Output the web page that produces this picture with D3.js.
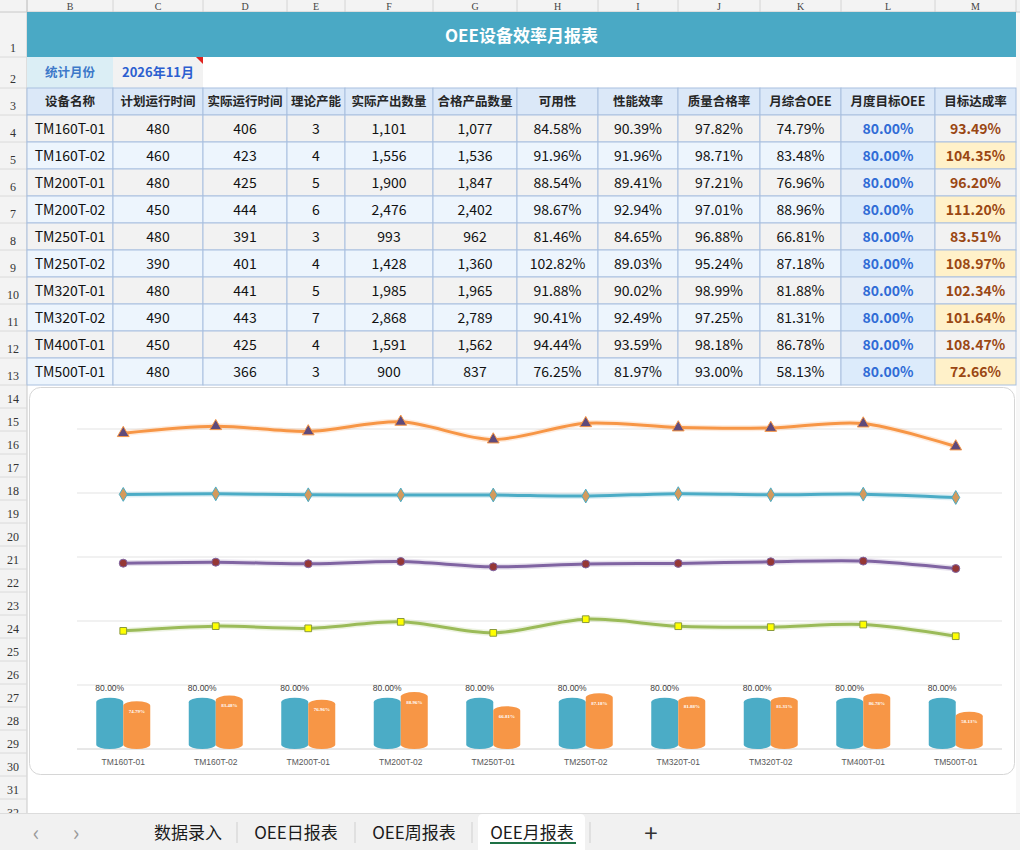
<!DOCTYPE html>
<html>
<head>
<meta charset="utf-8">
<script src="https://cdn.jsdelivr.net/npm/d3@7"></script>
<style>
  html, body { margin: 0; padding: 0; background: #ffffff; }
  svg { display: block; font-family: "Noto Sans CJK SC", "Noto Sans", sans-serif; }
</style>
</head>
<body>
<script>
// ----- Data -----
const devices = ["TM160T-01","TM160T-02","TM200T-01","TM200T-02","TM250T-01","TM250T-02","TM320T-01","TM320T-02","TM400T-01","TM500T-01"];
const planTime = [480, 460, 480, 450, 480, 390, 480, 490, 450, 480];
const actualTime = [406, 423, 425, 444, 391, 401, 441, 443, 425, 366];
const capacity = [3, 4, 5, 6, 3, 4, 5, 7, 4, 3];
const outputQty = [1101, 1556, 1900, 2476, 993, 1428, 1985, 2868, 1591, 900];
const goodQty = [1077, 1536, 1847, 2402, 962, 1360, 1965, 2789, 1562, 837];
const availability = [0.8458, 0.9196, 0.8854, 0.9867, 0.8146, 1.0282, 0.9188, 0.9041, 0.9444, 0.7625];
const performance = [0.9039, 0.9196, 0.8941, 0.9294, 0.8465, 0.8903, 0.9002, 0.9249, 0.9359, 0.8197];
const quality = [0.9782, 0.9871, 0.9721, 0.9701, 0.9688, 0.9524, 0.9899, 0.9725, 0.9818, 0.9300];
const oee = [0.7479, 0.8348, 0.7696, 0.8896, 0.6681, 0.8718, 0.8188, 0.8131, 0.8678, 0.5813];
const targetOee = [0.80, 0.80, 0.80, 0.80, 0.80, 0.80, 0.80, 0.80, 0.80, 0.80];
const achieveRate = [0.9349, 1.0435, 0.9620, 1.1120, 0.8351, 1.0897, 1.0234, 1.0164, 1.0847, 0.7266];

const headers = ["设备名称","计划运行时间","实际运行时间","理论产能","实际产出数量","合格产品数量","可用性","性能效率","质量合格率","月综合OEE","月度目标OEE","目标达成率"];
const colLetters = ["B","C","D","E","F","G","H","I","J","K","L","M"];
const sheetTabs = ["数据录入","OEE日报表","OEE周报表","OEE月报表"];
const reportTitle = "OEE设备效率月报表";
const monthLabel = "统计月份";
const monthValue = "2026年11月";

// ----- Sheet geometry -----
const W = 1020, H = 850;
const colX = [27, 113, 203, 287, 345, 433, 517, 598, 678, 760, 841, 935, 1016];
const headH = 12;
// row tops for rows 1..33
const rowTop = [12, 57, 88, 115];
for (let r = 5; r <= 14; r++) rowTop.push(rowTop[rowTop.length - 1] + 27);
for (let r = 15; r <= 33; r++) rowTop.push(rowTop[rowTop.length - 1] + 23);
const tabY = 813;

const fmtInt = d3.format(",");
const fmtPct = d3.format(".2%");

const svg = d3.select("body").append("svg")
    .attr("width", W)
    .attr("height", H)
    .attr("viewBox", "0 0 " + W + " " + H);

// ----- Spreadsheet frame: column letters and row numbers -----
svg.append("rect").attr("x", 0).attr("y", 0).attr("width", W).attr("height", headH).attr("fill", "#f3f3f3");
svg.append("rect").attr("x", 0).attr("y", 0).attr("width", colX[0]).attr("height", tabY).attr("fill", "#f3f3f3");
svg.append("rect").attr("x", colX[12]).attr("y", headH).attr("width", W - colX[12]).attr("height", tabY - headH).attr("fill", "#f7f7f7");

svg.selectAll(".colSep")
    .data(colX)
    .enter()
    .append("line")
    .attr("x1", d => d).attr("x2", d => d)
    .attr("y1", 0).attr("y2", headH)
    .attr("stroke", "#d4d4d4");

svg.selectAll(".colLetter")
    .data(colLetters)
    .enter()
    .append("text")
    .attr("x", (d, i) => (colX[i] + colX[i + 1]) / 2)
    .attr("y", 6.5)
    .attr("text-anchor", "middle")
    .attr("dominant-baseline", "central")
    .style("font-family", "'Liberation Serif', serif")
    .style("font-size", "10px")
    .attr("fill", "#444")
    .text(d => d);

svg.append("line").attr("x1", 0).attr("x2", W).attr("y1", headH).attr("y2", headH).attr("stroke", "#c8c8c8");
svg.append("line").attr("x1", colX[0]).attr("x2", colX[0]).attr("y1", 0).attr("y2", tabY).attr("stroke", "#c8c8c8");

const rowNums = d3.range(1, 33);
svg.selectAll(".rowSep")
    .data(rowNums)
    .enter()
    .append("line")
    .attr("x1", 0).attr("x2", colX[0])
    .attr("y1", d => rowTop[d]).attr("y2", d => rowTop[d])
    .attr("stroke", "#dadada");

svg.selectAll(".rowNum")
    .data(rowNums)
    .enter()
    .append("text")
    .attr("x", 13)
    .attr("y", d => rowTop[d] - 9)
    .attr("text-anchor", "middle")
    .attr("dominant-baseline", "central")
    .style("font-family", "'Liberation Serif', serif")
    .style("font-size", "12px")
    .attr("fill", "#333")
    .text(d => d);

// ----- Title band -----
svg.append("rect")
    .attr("x", colX[0]).attr("y", rowTop[0])
    .attr("width", colX[12] - colX[0]).attr("height", rowTop[1] - rowTop[0])
    .attr("fill", "#4aa9c5");
svg.append("text")
    .attr("x", (colX[0] + colX[12]) / 2)
    .attr("y", (rowTop[0] + rowTop[1]) / 2)
    .attr("text-anchor", "middle")
    .attr("dominant-baseline", "central")
    .style("font-size", "17px")
    .style("font-weight", "bold")
    .attr("fill", "#ffffff")
    .text(reportTitle);

// ----- Month row -----
svg.append("rect").attr("x", colX[0]).attr("y", rowTop[1]).attr("width", colX[1] - colX[0]).attr("height", rowTop[2] - rowTop[1]).attr("fill", "#dbeef5");
svg.append("rect").attr("x", colX[1]).attr("y", rowTop[1]).attr("width", colX[2] - colX[1]).attr("height", rowTop[2] - rowTop[1]).attr("fill", "#f2f2f2");
svg.append("text")
    .attr("x", (colX[0] + colX[1]) / 2).attr("y", (rowTop[1] + rowTop[2]) / 2 - 1)
    .attr("text-anchor", "middle").attr("dominant-baseline", "central")
    .style("font-size", "12.5px").style("font-weight", "bold")
    .attr("fill", "#3d79c9")
    .text(monthLabel);
svg.append("text")
    .attr("x", (colX[1] + colX[2]) / 2).attr("y", (rowTop[1] + rowTop[2]) / 2 - 1)
    .attr("text-anchor", "middle").attr("dominant-baseline", "central")
    .style("font-size", "13px").style("font-weight", "bold")
    .attr("fill", "#2c5fd0")
    .text(monthValue);
svg.append("path")
    .attr("d", "M" + (colX[2] - 7) + "," + rowTop[1] + "L" + colX[2] + "," + rowTop[1] + "L" + colX[2] + "," + (rowTop[1] + 7) + "Z")
    .attr("fill", "#e0211d");

// ----- Header row -----
svg.selectAll(".hdrCell")
    .data(headers)
    .enter()
    .append("rect")
    .attr("x", (d, i) => colX[i]).attr("y", rowTop[2])
    .attr("width", (d, i) => colX[i + 1] - colX[i]).attr("height", rowTop[3] - rowTop[2])
    .attr("fill", "#dbe8f8")
    .attr("stroke", "#a9c0df");

svg.selectAll(".hdrText")
    .data(headers)
    .enter()
    .append("text")
    .attr("x", (d, i) => (colX[i] + colX[i + 1]) / 2)
    .attr("y", (rowTop[2] + rowTop[3]) / 2 - 1)
    .attr("text-anchor", "middle").attr("dominant-baseline", "central")
    .style("font-size", "12.5px").style("font-weight", "bold")
    .attr("fill", "#262626")
    .text(d => d);

// ----- Data rows -----
const tableRows = devices.map((d, i) => [
    d, fmtInt(planTime[i]), fmtInt(actualTime[i]), fmtInt(capacity[i]), fmtInt(outputQty[i]), fmtInt(goodQty[i]),
    fmtPct(availability[i]), fmtPct(performance[i]), fmtPct(quality[i]), fmtPct(oee[i]), fmtPct(targetOee[i]), fmtPct(achieveRate[i])
]);

function cellFill(ri, ci) {
    const even = ri % 2 === 1;
    if (ci === 10) return even ? "#dcebfb" : "#e6eef8";
    if (ci === 11) return even ? "#fff1c9" : "#f2f2f2";
    return even ? "#edf5fd" : "#f2f2f2";
}
function cellColor(ci) {
    if (ci === 10) return "#2f6bd6";
    if (ci === 11) return "#9a4712";
    return "#111111";
}

const rowG = svg.selectAll(".dataRow")
    .data(tableRows)
    .enter()
    .append("g")
    .attr("class", "dataRow");

rowG.selectAll("rect")
    .data((row, ri) => row.map((v, ci) => ({ v, ri, ci })))
    .enter()
    .append("rect")
    .attr("x", d => colX[d.ci]).attr("y", d => rowTop[3 + d.ri])
    .attr("width", d => colX[d.ci + 1] - colX[d.ci]).attr("height", 27)
    .attr("fill", d => cellFill(d.ri, d.ci))
    .attr("stroke", "#a9c0df");

rowG.selectAll("text")
    .data((row, ri) => row.map((v, ci) => ({ v, ri, ci })))
    .enter()
    .append("text")
    .attr("x", d => (colX[d.ci] + colX[d.ci + 1]) / 2)
    .attr("y", d => rowTop[3 + d.ri] + 12.5)
    .attr("text-anchor", "middle").attr("dominant-baseline", "central")
    .style("font-size", "14px")
    .style("font-weight", d => d.ci >= 10 ? "bold" : "normal")
    .attr("fill", d => cellColor(d.ci))
    .text(d => d.v);

// ----- Chart -----
svg.append("rect")
    .attr("x", 29.5).attr("y", 387.5)
    .attr("width", 985).attr("height", 387)
    .attr("rx", 11)
    .attr("fill", "#ffffff")
    .attr("stroke", "#d6d6d6");

const xC = d3.scaleBand().domain(devices).range([77, 1002]);
const yC = d3.scaleLinear().domain([0, 5]).range([749, 429]);

const chart = svg.append("g").attr("class", "oeeChart");

chart.selectAll(".grid")
    .data(yC.ticks(5))
    .enter()
    .append("line")
    .attr("x1", 77).attr("x2", 1002)
    .attr("y1", d => yC(d)).attr("y2", d => yC(d))
    .attr("stroke", d => d === 0 ? "#d0d0d0" : "#e3e3e3");

// cylinder bars
const barW = 27, capR = 4.5;
function cylinder(x0, v) {
    const x1 = x0 + barW, top = yC(v) + capR, base = yC(0) - capR, rx = barW / 2;
    return "M" + x0 + "," + top +
        "A" + rx + "," + capR + " 0 0 1 " + x1 + "," + top +
        "L" + x1 + "," + base +
        "A" + rx + "," + capR + " 0 0 1 " + x0 + "," + base + "Z";
}
const mid = d => xC(d) + xC.bandwidth() / 2;

chart.selectAll(".barTarget")
    .data(devices)
    .enter()
    .append("path")
    .attr("d", (d, i) => cylinder(mid(d) - barW, targetOee[i]))
    .attr("fill", "#4bacc6");

chart.selectAll(".barOee")
    .data(devices)
    .enter()
    .append("path")
    .attr("d", (d, i) => cylinder(mid(d), oee[i]))
    .attr("fill", "#f79646");

chart.selectAll(".lblTarget")
    .data(devices)
    .enter()
    .append("text")
    .attr("x", d => mid(d) - barW / 2)
    .attr("y", (d, i) => yC(targetOee[i]) - 10)
    .attr("text-anchor", "middle").attr("dominant-baseline", "central")
    .style("font-family", "'Liberation Sans', sans-serif")
    .style("font-size", "8.5px")
    .attr("fill", "#404040")
    .text((d, i) => fmtPct(targetOee[i]));

chart.selectAll(".lblOee")
    .data(devices)
    .enter()
    .append("text")
    .attr("x", d => mid(d) + barW / 2)
    .attr("y", (d, i) => yC(oee[i]) + 10)
    .attr("text-anchor", "middle").attr("dominant-baseline", "central")
    .style("font-family", "'Liberation Serif', serif")
    .style("font-size", "5px")
    .style("font-weight", "bold")
    .attr("fill", "#ffffff")
    .text((d, i) => fmtPct(oee[i]));

chart.selectAll(".catLabel")
    .data(devices)
    .enter()
    .append("text")
    .attr("x", d => mid(d))
    .attr("y", 762)
    .attr("text-anchor", "middle").attr("dominant-baseline", "central")
    .style("font-family", "'Liberation Sans', sans-serif")
    .style("font-size", "8.5px")
    .attr("fill", "#595959")
    .text(d => d);

// smoothed lines, each series lifted onto its own band of the axis
const lineSeries = [
    { values: achieveRate, offset: 4, color: "#f79646", symbol: d3.symbolTriangle, size: 60, fill: "#5f4a7b" },
    { values: quality, offset: 3, color: "#4bacc6", symbol: d3.symbolDiamond, size: 55, fill: "#d49a5c" },
    { values: performance, offset: 2, color: "#8064a2", symbol: d3.symbolCircle, size: 50, fill: "#953735" },
    { values: availability, offset: 1, color: "#9bbb59", symbol: d3.symbolSquare, size: 45, fill: "#ffff00" }
];

const line = d3.line()
    .x((d, i) => mid(devices[i]))
    .y(d => yC(d))
    .curve(d3.curveCardinal.tension(0.1));

lineSeries.forEach(s => {
    const pts = s.values.map(v => v + s.offset);
    chart.append("path")
        .attr("d", line(pts))
        .attr("fill", "none")
        .attr("stroke", s.color)
        .attr("stroke-opacity", 0.18)
        .attr("stroke-width", 6);
    chart.append("path")
        .attr("d", line(pts))
        .attr("fill", "none")
        .attr("stroke", s.color)
        .attr("stroke-width", 3);
    chart.selectAll(null)
        .data(pts)
        .enter()
        .append("path")
        .attr("transform", (d, i) => "translate(" + mid(devices[i]) + "," + yC(d) + ")")
        .attr("d", d3.symbol().type(s.symbol).size(s.size))
        .attr("fill", s.fill)
        .attr("stroke", s.symbol === d3.symbolSquare ? "#8a9a3c" : s.color)
        .attr("stroke-width", 1);
});

// ----- Sheet tabs -----
svg.append("rect").attr("x", 0).attr("y", tabY).attr("width", W).attr("height", H - tabY).attr("fill", "#f1f1f1");
svg.append("line").attr("x1", 0).attr("x2", W).attr("y1", tabY + 0.5).attr("y2", tabY + 0.5).attr("stroke", "#dcdcdc");

const tabCenters = [188, 296, 414, 532];
const tabSeps = [237, 355, 472, 590];

svg.append("path")
    .attr("d", "M478," + H + "L478," + (tabY + 6) + "Q478," + (tabY + 1) + " 483," + (tabY + 1) +
        "L580," + (tabY + 1) + "Q585," + (tabY + 1) + " 585," + (tabY + 6) + "L585," + H + "Z")
    .attr("fill", "#ffffff");

svg.selectAll(".tabSep")
    .data(tabSeps)
    .enter()
    .append("line")
    .attr("x1", d => d).attr("x2", d => d)
    .attr("y1", 822).attr("y2", 843)
    .attr("stroke", "#cfcfcf");

svg.selectAll(".tabText")
    .data(sheetTabs)
    .enter()
    .append("text")
    .attr("x", (d, i) => tabCenters[i])
    .attr("y", 831)
    .attr("text-anchor", "middle").attr("dominant-baseline", "central")
    .style("font-size", "17px")
    .attr("fill", "#1a1a1a")
    .text(d => d);

svg.append("rect").attr("x", 490).attr("y", 842).attr("width", 86).attr("height", 2).attr("fill", "#1e7145");

svg.selectAll(".navArrow")
    .data(["‹", "›"])
    .enter()
    .append("text")
    .attr("x", (d, i) => i === 0 ? 36 : 76)
    .attr("y", 831)
    .attr("text-anchor", "middle").attr("dominant-baseline", "central")
    .style("font-size", "22px")
    .attr("fill", "#9a9a9a")
    .text(d => d);

svg.append("text")
    .attr("x", 651).attr("y", 831)
    .attr("text-anchor", "middle").attr("dominant-baseline", "central")
    .style("font-size", "24px")
    .attr("fill", "#333")
    .text("+");
</script>
</body>
</html>
